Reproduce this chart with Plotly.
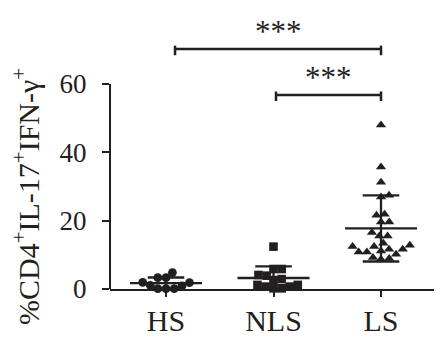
import numpy as np
import plotly.graph_objects as go

# ---------------- data ----------------
categories = ["HS", "NLS", "LS"]
hs_values = [3.3, 1.95, 1.07, 0.1, 0.1, 0.1, 0.88, 1.85, 3.3, 4.8]
nls_values = [12.4, 5.85, 5.85, 4.1, 3.9, 2.9, 2.6, 1.2, 0.7, 0.2, 0.2, 0.7, 1.2]
ls_values = [48.0, 35.7, 31.2, 27.4, 26.9, 21.9, 21.6, 19.6, 19.6, 16.5, 15.5, 15.5,
             13.4, 12.8, 12.4, 12.4, 11.6, 11.6, 11.1, 10.8, 10.8, 10.2, 9.2, 8.7, 8.9]
y_tick_values = [0, 20, 40, 60]
y_title = "%CD4<sup>+</sup>IL-17<sup>+</sup>IFN-γ<sup>+</sup>"
comparisons = [("HS", "LS", 70.2, "***"), ("NLS", "LS", 56.8, "***")]

# ---------------- layout constants ----------------
W, H = 436, 346
M_L, M_R, M_T, M_B = 110, 2, 5, 57
X_RANGE = [-0.521, 2.493]
Y_RANGE = [0, 83.1]
INK = "#231f20"
SERIF = "Liberation Serif, Times New Roman, serif"

px_per_x = (W - M_L - M_R) / (X_RANGE[1] - X_RANGE[0])
px_per_y = (H - M_T - M_B) / (Y_RANGE[1] - Y_RANGE[0])


def swarm_offsets(values, diameter_px):
    """Deterministic beeswarm: place points (ascending) nearest the centre without overlap."""
    vals = np.asarray(values, dtype=float)
    order = np.argsort(vals, kind="stable")
    placed = []
    offs = np.zeros(len(vals))
    D = diameter_px
    for i in order:
        y = vals[i] * px_per_y
        cands = [0.0]
        for xp, yp in placed:
            dy = abs(y - yp)
            if dy < D:
                dx = np.sqrt(D * D - dy * dy)
                cands += [xp + dx, xp - dx]
        cands.sort(key=lambda c: (round(abs(c), 6), -c if len(placed) % 2 else c))
        for c in cands:
            if all((c - xp) ** 2 + (y - yp) ** 2 >= D * D - 1e-6 for xp, yp in placed):
                offs[i] = c
                placed.append((c, y))
                break
    return offs / px_per_x


groups = [
    (hs_values, "circle", 8.8),
    (nls_values, "square", 8.6),
    (ls_values, "triangle-up", 9),
]

fig = go.Figure()

for ci, (vals, sym, size) in enumerate(groups):
    offs = swarm_offsets(vals, 8.2)
    fig.add_trace(go.Scatter(
        x=ci + offs, y=vals, mode="markers", cliponaxis=False,
        marker=dict(symbol=sym, size=size, color=INK, line=dict(width=0)),
        showlegend=False, hoverinfo="skip"))
    m = float(np.mean(vals))
    s = float(np.std(vals, ddof=1))
    lo, hi = max(m - s, 0), m + s
    # mean line
    fig.add_trace(go.Scatter(x=[ci - 0.335, ci + 0.335], y=[m, m], mode="lines",
                             line=dict(color=INK, width=2.3), showlegend=False, hoverinfo="skip"))
    # SD whisker and caps
    fig.add_trace(go.Scatter(
        x=[ci, ci, None, ci - 0.17, ci + 0.17, None, ci - 0.17, ci + 0.17],
        y=[lo, hi, None, hi, hi, None, lo, lo], mode="lines",
        line=dict(color=INK, width=2.3), showlegend=False, hoverinfo="skip"))

shapes = [dict(type="line", xref="paper", yref="y", x0=0, x1=0, y0=0, y1=60,
               line=dict(color=INK, width=2))]
annotations = []
offsets_left = {"HS": 0.084, "NLS": 0.023}
for a, b, yv, label in comparisons:
    xa = categories.index(a) + offsets_left[a]
    xb = categories.index(b)
    shapes.append(dict(type="line", xref="x", yref="y", x0=xa, x1=xb, y0=yv, y1=yv,
                       line=dict(color=INK, width=2.5)))
    for xx in (xa, xb):
        shapes.append(dict(type="line", xref="x", yref="y", x0=xx, x1=xx,
                           y0=yv - 1.8, y1=yv + 1.0, line=dict(color=INK, width=2.5)))
    annotations.append(dict(x=(xa + xb) / 2, y=yv + 5.1, xref="x", yref="y",
                            text=label, showarrow=False, yanchor="middle",
                            font=dict(family=SERIF, size=31, color=INK)))

annotations.append(dict(
    x=(26 - M_L) / (W - M_L - M_R), y=(H - M_B - 197) / (H - M_T - M_B),
    xref="paper", yref="paper", xanchor="center", yanchor="middle",
    text=y_title, showarrow=False, textangle=-90,
    font=dict(family=SERIF, size=30, color=INK)))

fig.update_layout(
    width=W, height=H, margin=dict(l=M_L, r=M_R, t=M_T, b=M_B),
    paper_bgcolor="white", plot_bgcolor="white",
    xaxis=dict(range=X_RANGE, tickvals=[0, 1, 2], ticktext=categories,
               showgrid=False, zeroline=False, showline=True, linecolor=INK, linewidth=2,
               ticks="outside", ticklen=6, tickwidth=2, tickcolor=INK,
               ticklabelstandoff=-2,
               tickfont=dict(family=SERIF, size=30, color=INK)),
    yaxis=dict(range=Y_RANGE, tickvals=y_tick_values, showgrid=False, zeroline=False,
               showline=False, ticks="outside", ticklen=7, tickwidth=2, tickcolor=INK,
               ticklabelstandoff=10,
               tickfont=dict(family=SERIF, size=27, color=INK)),
    shapes=shapes, annotations=annotations,
)

fig.write_html("out.html")
